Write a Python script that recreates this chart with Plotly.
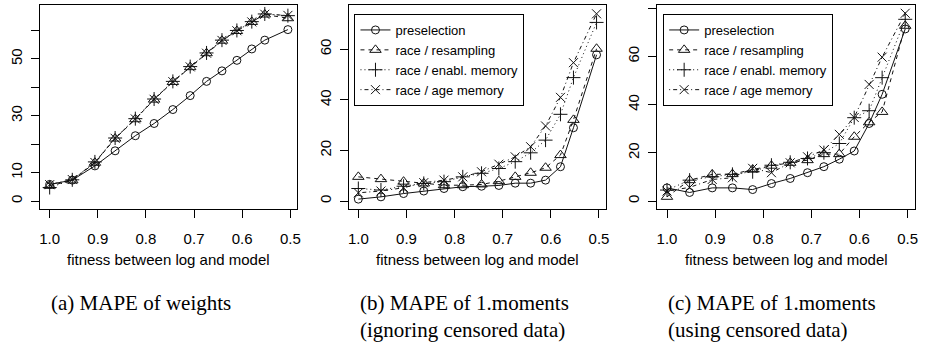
import plotly.graph_objects as go

W, H = 932, 342

# ---------------- data ----------------
fitness = [1.0, 0.953, 0.906, 0.864, 0.822, 0.783, 0.744, 0.708, 0.674, 0.642, 0.611, 0.580, 0.553, 0.505]

series_names = ["preselection", "race / resampling", "race / enabl. memory", "race / age memory"]

# (a) MAPE of weights
a_preselection = [5.9, 7.4, 12.4, 17.7, 23.0, 27.3, 32.2, 37.1, 42.1, 45.8, 49.5, 53.5, 56.6, 60.3]
a_resampling   = [5.4, 7.3, 13.5, 22.0, 28.8, 35.7, 41.9, 47.1, 52.0, 56.4, 59.8, 63.0, 65.6, 64.3]
a_enabl        = [4.8, 7.5, 13.8, 22.2, 29.0, 35.9, 42.1, 47.3, 52.1, 56.6, 60.0, 63.1, 65.8, 65.2]
a_age          = [5.8, 7.6, 13.6, 22.1, 28.9, 35.8, 42.0, 47.2, 52.0, 56.5, 59.9, 63.0, 65.7, 65.3]

# (b) MAPE of 1.moments (ignoring censored data)
b_preselection = [0.8, 1.7, 3.0, 4.0, 5.0, 5.7, 5.9, 6.2, 7.1, 7.1, 8.3, 13.6, 29.0, 57.8]
b_resampling   = [9.6, 8.7, 7.7, 7.0, 6.3, 6.3, 6.6, 7.9, 9.6, 11.2, 13.2, 18.2, 32.1, 60.2]
b_enabl        = [5.0, 4.4, 5.9, 7.0, 7.7, 9.6, 11.0, 12.9, 15.6, 19.1, 24.1, 34.3, 48.8, 70.6]
b_age          = [3.3, 4.0, 5.3, 7.3, 8.3, 9.6, 11.6, 14.6, 17.5, 21.5, 29.7, 41.0, 54.7, 74.0]

# (c) MAPE of 1.moments (using censored data)
c_preselection = [5.5, 3.6, 5.5, 5.5, 4.8, 7.3, 9.4, 11.8, 14.3, 17.4, 20.8, 32.2, 44.3, 71.4]
c_resampling   = [1.8, 8.7, 11.1, 11.2, 13.1, 14.7, 15.9, 17.0, 19.5, 19.5, 26.7, 32.7, 37.0, 72.7]
c_enabl        = [4.6, 8.7, 10.1, 11.1, 12.2, 14.9, 16.1, 17.7, 20.1, 23.9, 34.6, 37.5, 51.2, 75.4]
c_age          = [4.2, 5.7, 9.0, 9.7, 13.6, 11.8, 15.9, 18.4, 21.2, 27.7, 34.7, 48.4, 59.7, 77.9]

x_ticks = [1.0, 0.9, 0.8, 0.7, 0.6, 0.5]
x_ticktext = ["1.0", "0.9", "0.8", "0.7", "0.6", "0.5"]
a_yticks = [0, 10, 20, 30, 40, 50, 60]
a_yticktext = ["0", "10", "", "30", "", "50", ""]
b_yticks = [0, 20, 40, 60]
c_yticks = [0, 20, 40, 60, 80]

x_label = "fitness between log and model"
captions = ["(a) MAPE of weights",
            "(b) MAPE of 1.moments<br>(ignoring censored data)",
            "(c) MAPE of 1.moments<br>(using censored data)"]

# ---------------- styles ----------------
INK = "#111111"
styles = [
    dict(symbol="circle-open", size=8, dash="solid"),
    dict(symbol="triangle-up-open", size=10, dash="4px,4px"),
    dict(symbol="cross-thin-open", size=10, dash="1px,3px"),
    dict(symbol="x-thin-open", size=9, dash="1px,3px,4px,3px"),
]

fig = go.Figure()

panels = [
    ([a_preselection, a_resampling, a_enabl, a_age], None),
    ([b_preselection, b_resampling, b_enabl, b_age], "legend"),
    ([c_preselection, c_resampling, c_enabl, c_age], "legend2"),
]

for p, (data, leg) in enumerate(panels):
    xa = "x" if p == 0 else f"x{p+1}"
    ya = "y" if p == 0 else f"y{p+1}"
    for name, ys, st in zip(series_names, data, styles):
        kw = {}
        if leg is not None:
            kw["legend"] = leg
        fig.add_trace(go.Scatter(
            x=fitness, y=ys, name=name, mode="lines+markers",
            xaxis=xa, yaxis=ya,
            line=dict(color=INK, width=1, dash=st["dash"]),
            marker=dict(symbol=st["symbol"], size=st["size"], color=INK,
                        line=dict(color=INK, width=1)),
            showlegend=leg is not None, **kw))

# ---------------- layout ----------------
lefts = [39.3, 349.3, 659.3]
pw = 258.4
top_px, bot_px = 5.0, 208.7
ydom = [1 - bot_px / H, 1 - top_px / H]

tickfont = dict(family="Liberation Sans, Arial, sans-serif", size=15, color="#000")
yranges = [[-2.65, 68.95], [-2.98, 77.48], [-3.13, 81.33]]
yticks = [(a_yticks, a_yticktext), (b_yticks, [str(v) for v in b_yticks]), (c_yticks, [str(v) for v in c_yticks])]

layout = dict(
    width=W, height=H, margin=dict(l=0, r=0, t=0, b=0),
    paper_bgcolor="white", plot_bgcolor="white",
)
for p in range(3):
    sx = "" if p == 0 else str(p + 1)
    layout[f"xaxis{sx}"] = dict(
        domain=[lefts[p] / W, (lefts[p] + pw) / W],
        range=[1.0198, 0.4852], anchor=f"y{sx}",
        tickvals=x_ticks, ticktext=x_ticktext,
        showline=True, mirror=True, linecolor="#000", linewidth=1,
        ticks="outside", ticklen=8, tickcolor="#000", tickwidth=1,
        showgrid=False, zeroline=False, tickfont=tickfont,
        ticklabelstandoff=8,
    )
    tv, tt = yticks[p]
    layout[f"yaxis{sx}"] = dict(
        domain=ydom, range=yranges[p], anchor=f"x{sx}",
        tickvals=tv, ticktext=tt, tickangle=-90,
        showline=True, mirror=True, linecolor="#000", linewidth=1,
        ticks="outside", ticklen=8, tickcolor="#000", tickwidth=1,
        showgrid=False, zeroline=False, tickfont=tickfont,
        ticklabelstandoff=3,
    )

legfont = dict(family="Liberation Sans, Arial, sans-serif", size=13, color="#000")
for key, lx in (("legend", 355), ("legend2", 665)):
    layout[key] = dict(
        x=lx / W, y=1 - 14 / H, xanchor="left", yanchor="top",
        bordercolor="#000", borderwidth=1, bgcolor="white",
        font=legfont, itemwidth=30, tracegroupgap=0,
    )

fig.update_layout(**layout)

# axis titles and captions
for p in range(3):
    cx = (lefts[p] + pw / 2) / W
    fig.add_annotation(text=x_label, x=cx, y=1 - 259 / H, xref="paper", yref="paper",
                       xanchor="center", yanchor="middle", showarrow=False,
                       font=dict(family="Liberation Sans, Arial, sans-serif", size=15, color="#000"))
    fig.add_annotation(text=captions[p], x=(lefts[p] + 9) / W, y=1 - 289 / H,
                       xref="paper", yref="paper", xanchor="left", yanchor="top",
                       align="left", showarrow=False,
                       font=dict(family="Liberation Serif, Times New Roman, serif", size=21, color="#000"))

fig.write_html("out.html")
